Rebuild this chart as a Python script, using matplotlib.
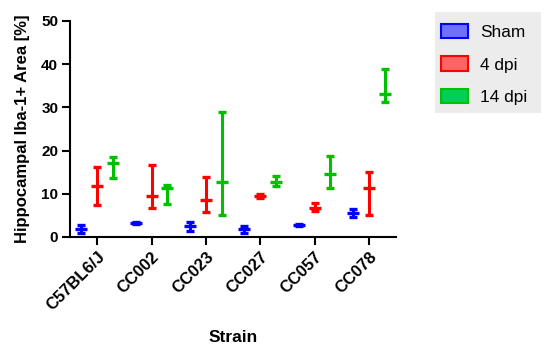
import numpy as np
import matplotlib
matplotlib.use('Agg')
from matplotlib import pyplot as plt
from matplotlib.patches import Patch, Rectangle

plt.rcParams['font.family'] = ['Liberation Sans', 'DejaVu Sans']

strains = ['C57BL6/J', 'CC002', 'CC023', 'CC027', 'CC057', 'CC078']
groups = ['Sham', '4 dpi', '14 dpi']

# mean, lower, upper for each strain
sham_mean = [1.9, 3.3, 2.5, 1.8, 2.8, 5.6]
sham_low = [0.9, 3.1, 1.5, 1.0, 2.5, 4.6]
sham_high = [2.7, 3.5, 3.5, 2.5, 3.1, 6.4]

dpi4_mean = [11.7, 9.6, 8.6, 9.5, 6.8, 11.4]
dpi4_low = [7.5, 6.6, 5.9, 9.0, 6.0, 5.0]
dpi4_high = [16.2, 16.6, 13.9, 9.9, 7.8, 15.0]

dpi14_mean = [17.1, 11.3, 12.7, 12.7, 14.5, 33.1]
dpi14_low = [13.7, 7.6, 5.0, 11.9, 11.3, 31.2]
dpi14_high = [18.5, 12.1, 28.9, 14.2, 18.7, 38.9]

colors = ['#0000ff', '#ff0000', '#00c000']
light = ['#7070ff', '#ff6464', '#00d058']

W, H = 550, 348
fig = plt.figure(figsize=(W / 100, H / 100), dpi=100)
ax = fig.add_axes([70 / W, 1 - 237 / H, 326 / W, 216 / H])

x = np.arange(len(strains))
offsets = [-0.29, 0.0, 0.29]
series = [(sham_mean, sham_low, sham_high),
          (dpi4_mean, dpi4_low, dpi4_high),
          (dpi14_mean, dpi14_low, dpi14_high)]

for i, (m, lo, hi) in enumerate(series):
    m = np.array(m)
    err = [m - np.array(lo), np.array(hi) - m]
    ax.errorbar(x + offsets[i], m, yerr=err, fmt='_', color=colors[i],
                markersize=8, markeredgewidth=2.4, elinewidth=2.2,
                capsize=3.2, capthick=2.2, zorder=3)

ax.set_xlim(-0.5, 5.5)
ax.set_ylim(0, 50)
ax.set_yticks([0, 10, 20, 30, 40, 50])
ax.set_xticks(x)
ax.set_xticklabels(strains, rotation=45, ha='right', va='top', rotation_mode='anchor')
for lab in ax.get_yticklabels():
    lab.set_fontweight('bold')
    lab.set_fontsize(11)
for lab in ax.get_xticklabels():
    lab.set_fontweight('bold')
    lab.set_fontsize(12)

for s in ['top', 'right']:
    ax.spines[s].set_visible(False)
for s in ['left', 'bottom']:
    ax.spines[s].set_linewidth(1.5)
ax.tick_params(width=1.5, length=5.5, pad=3)

ax.set_ylabel('Hippocampal Iba-1+ Area [%]', fontsize=12, fontweight='bold', labelpad=8)
ax.set_xlabel('Strain', fontsize=12.5, fontweight='bold', labelpad=12)

# grey legend box
fig.patches.append(Rectangle((435 / W, 1 - 113 / H), 106 / W, 101 / H,
                             transform=fig.transFigure, facecolor='#ececec',
                             edgecolor='none', zorder=0))
handles = [Patch(facecolor=light[i], edgecolor=colors[i], linewidth=1.5, label=groups[i])
           for i in range(3)]
leg = fig.legend(handles=handles, loc='upper left', bbox_to_anchor=(441 / W, 1 - 24 / H),
                 frameon=False, fontsize=12.4, labelspacing=0.95,
                 handlelength=1.55, handleheight=0.9, handletextpad=0.7,
                 borderpad=0, borderaxespad=0)

fig.savefig('out.png', dpi=100)
